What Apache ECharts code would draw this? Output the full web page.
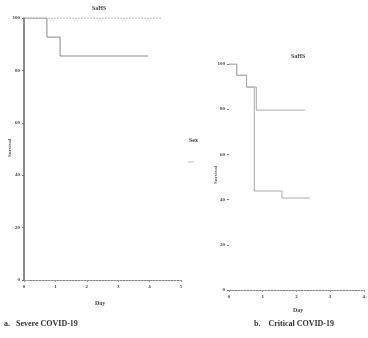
<!DOCTYPE html>
<html><head><meta charset="utf-8">
<script src="https://cdn.jsdelivr.net/npm/echarts@6/dist/echarts.min.js"></script>
<style>html,body{margin:0;padding:0;background:#fff}#c{width:368px;height:338px}</style>
</head><body><div id="c"></div>
<script>
// Panel a: Severe COVID-19
const severeGroupA = [[0,100],[0.73,92.7],[1.15,85.5],[3.95,85.5]];
const severeGroupB = [[0,100],[4.4,100]];
// Panel b: Critical COVID-19
const criticalGroupA = [[0,100],[0.23,95],[0.52,89.8],[0.81,79.6],[2.26,79.6]];
const criticalGroupB = [[0,100],[0.23,95],[0.52,89.8],[0.75,43.8],[1.57,40.7],[2.4,40.7]];
const yTicks = ['0','20','40','60','80','100'];
const xTicksA = ['0','1','2','3','4','5'];
const xTicksB = ['0','1','2','3','4'];

const FONT = 'Liberation Serif';
const chart = echarts.init(document.getElementById('c'), null, {renderer:'canvas'});
const axisLbl = {fontSize:5, fontWeight:'bold', color:'#444', fontFamily:FONT, margin:4};
function yAx(idx, showLine){
  return {gridIndex:idx, type:'value', min:0, max:100, interval:20,
    axisLine:{show:showLine, lineStyle:{color:'#666', width:1.5}},
    axisTick:{show:true, length:2, lineStyle:{color:'#777'}},
    splitLine:{show:false},
    axisLabel:Object.assign({}, axisLbl, {formatter:v=>yTicks[v/20]})};
}
function xAx(idx, max, labels){
  return {gridIndex:idx, type:'value', min:0, max:max, interval:1,
    axisLine:{show:true, lineStyle:{color:'#888', type:[2,1], width:1}},
    axisTick:{show:true, length:2, lineStyle:{color:'#999'}},
    splitLine:{show:false},
    axisLabel:Object.assign({}, axisLbl, {formatter:v=>labels[v]})};
}
const solid = {color:'#8a8a8a', width:1};
const dotted = {color:'#aaa', width:1, type:[2,1]};
chart.setOption({
  animation:false,
  grid:[{left:24, top:18, width:157, height:262},
        {left:229, top:64, width:138, height:226}],
  xAxis:[xAx(0,5,xTicksA), xAx(1,4,xTicksB)],
  yAxis:[yAx(0,true), yAx(1,false)],
  series:[
    {type:'line', xAxisIndex:0, yAxisIndex:0, step:'end', symbol:'none', data:severeGroupB, lineStyle:dotted},
    {type:'line', xAxisIndex:0, yAxisIndex:0, step:'end', symbol:'none', data:severeGroupA, lineStyle:solid},
    {type:'line', xAxisIndex:1, yAxisIndex:1, step:'end', symbol:'none', data:criticalGroupA, lineStyle:{color:'#aaa', width:1}},
    {type:'line', xAxisIndex:1, yAxisIndex:1, step:'end', symbol:'none', data:criticalGroupB, lineStyle:{color:'#aaa', width:1}}
  ],
  graphic:[
    {type:'text', left:92, top:5, style:{text:'SaHS', font:'bold 6px '+FONT, fill:'#444'}},
    {type:'text', x:10, y:148, rotation:Math.PI/2, style:{text:'Survival', font:'bold 5px '+FONT, fill:'#555', align:'center', verticalAlign:'middle'}},
    {type:'text', left:95, top:300, style:{text:'Day', font:'bold 6px '+FONT, fill:'#444'}},
    {type:'text', left:291, top:53, style:{text:'SaHS', font:'bold 6px '+FONT, fill:'#444'}},
    {type:'text', left:189, top:137, style:{text:'Sex', font:'bold 6px '+FONT, fill:'#444'}},
    {type:'line', shape:{x1:188, y1:162, x2:194, y2:162}, style:{stroke:'#bbb', lineWidth:1}},
    {type:'text', x:216, y:175, rotation:Math.PI/2, style:{text:'Survival', font:'bold 5px '+FONT, fill:'#666', align:'center', verticalAlign:'middle'}},
    {type:'text', left:293, top:307, style:{text:'Day', font:'bold 6px '+FONT, fill:'#444'}},
    {type:'text', left:4, top:320, style:{text:'a.   Severe COVID-19', font:'bold 8px '+FONT, fill:'#333'}},
    {type:'text', left:254, top:320, style:{text:'b.    Critical COVID-19', font:'bold 8px '+FONT, fill:'#333'}}
  ]
});
</script></body></html>
